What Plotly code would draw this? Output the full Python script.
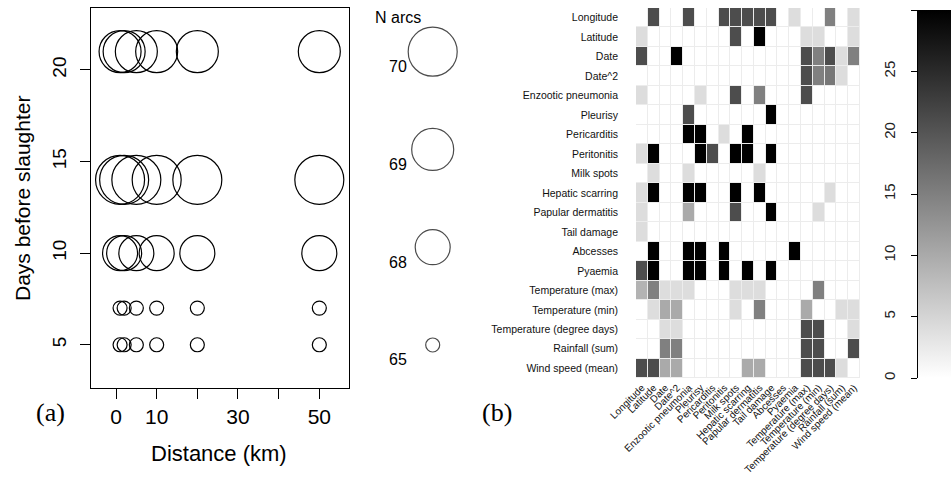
import plotly.graph_objects as go

W, H = 951, 479


def px(x):
    return x / W


def py(y):
    return 1 - y / H


# ---------------- Panel (a) data ----------------
distance_km = [1, 2, 5, 10, 20, 50]
days_before_slaughter = [21, 14, 10, 7, 5]
n_arcs_per_day = [69, 70, 68, 65, 65]
legend_n_arcs = [70, 69, 68, 65]
x_tick_vals = [0, 10, 20, 30, 40, 50]
x_tick_text = ["0", "10", "", "30", "", "50"]
y_tick_vals = [5, 10, 15, 20]

# ---------------- Panel (b) data ----------------
variables = [
    "Longitude", "Latitude", "Date", "Date^2", "Enzootic pneumonia", "Pleurisy",
    "Pericarditis", "Peritonitis", "Milk spots", "Hepatic scarring",
    "Papular dermatitis", "Tail damage", "Abcesses", "Pyaemia",
    "Temperature (max)", "Temperature (min)", "Temperature (degree days)",
    "Rainfall (sum)", "Wind speed (mean)",
]
row_longitude = [0, 21, 0, 0, 21, 0, 0, 21, 21, 21, 21, 21, 0, 4, 0, 0, 15, 0, 4]
row_latitude = [4, 0, 0, 0, 0, 0, 0, 0, 21, 0, 30, 0, 0, 0, 4, 4, 0, 0, 4]
row_date = [21, 0, 0, 30, 0, 0, 0, 0, 0, 0, 0, 0, 0, 0, 21, 15, 21, 4, 15]
row_date2 = [0, 0, 0, 0, 0, 0, 0, 0, 0, 0, 0, 0, 0, 0, 21, 15, 16, 4, 0]
row_enzootic = [4, 0, 0, 0, 0, 4, 0, 0, 21, 0, 15, 0, 0, 0, 21, 0, 0, 0, 0]
row_pleurisy = [0, 0, 0, 0, 21, 0, 0, 0, 0, 0, 0, 30, 0, 0, 0, 0, 0, 0, 0]
row_pericarditis = [0, 0, 0, 0, 30, 30, 0, 4, 0, 30, 0, 0, 0, 0, 0, 0, 0, 0, 0]
row_peritonitis = [4, 30, 0, 0, 0, 30, 21, 0, 30, 30, 0, 30, 0, 0, 0, 0, 0, 0, 0]
row_milk_spots = [0, 4, 0, 0, 4, 0, 0, 0, 0, 0, 4, 0, 0, 0, 0, 0, 0, 0, 0]
row_hepatic = [4, 30, 0, 0, 30, 30, 0, 0, 30, 0, 30, 0, 0, 0, 0, 0, 4, 0, 0]
row_papular = [4, 0, 0, 0, 10, 0, 0, 0, 21, 0, 0, 30, 0, 0, 0, 4, 0, 0, 0]
row_tail = [4, 0, 0, 0, 0, 0, 0, 0, 0, 0, 0, 0, 0, 0, 0, 0, 0, 0, 0]
row_abcesses = [0, 30, 0, 0, 30, 30, 0, 30, 0, 0, 0, 0, 0, 30, 0, 0, 0, 0, 0]
row_pyaemia = [21, 30, 0, 0, 30, 30, 0, 30, 0, 30, 0, 30, 0, 0, 0, 0, 0, 0, 0]
row_temp_max = [9, 15, 4, 4, 4, 0, 0, 0, 4, 4, 4, 0, 0, 0, 0, 15, 0, 0, 0]
row_temp_min = [0, 4, 10, 10, 0, 0, 0, 0, 4, 0, 15, 0, 0, 0, 10, 0, 0, 4, 4]
row_temp_dd = [0, 0, 4, 4, 0, 0, 0, 0, 0, 0, 0, 0, 0, 0, 21, 21, 0, 0, 4]
row_rainfall = [0, 0, 15, 15, 0, 0, 0, 0, 0, 0, 0, 0, 0, 0, 21, 21, 0, 0, 21]
row_wind = [21, 21, 10, 10, 0, 0, 0, 0, 0, 10, 10, 0, 0, 0, 21, 21, 21, 4, 0]
heat_rows = [
    row_longitude, row_latitude, row_date, row_date2, row_enzootic, row_pleurisy,
    row_pericarditis, row_peritonitis, row_milk_spots, row_hepatic, row_papular,
    row_tail, row_abcesses, row_pyaemia, row_temp_max, row_temp_min, row_temp_dd,
    row_rainfall, row_wind,
]
cbar_ticks = [0, 5, 10, 15, 20, 25, 30]


def arc_diameter(n):
    # bubble diameter (px) grows with the number of arcs
    return 35 + 7 * (n - 68)


SANS = "Liberation Sans, Arial, Helvetica, sans-serif"
SERIF = "Liberation Serif, Times New Roman, serif"

fig = go.Figure()

# Panel (a) bubbles
for day, n in zip(days_before_slaughter, n_arcs_per_day):
    fig.add_trace(go.Scatter(
        x=distance_km, y=[day] * len(distance_km), mode="markers",
        marker=dict(size=arc_diameter(n), color="rgba(0,0,0,0)",
                    line=dict(color="black", width=1.2)),
        xaxis="x", yaxis="y", hoverinfo="x+y", showlegend=False, cliponaxis=False,
    ))

# Size legend
fig.add_trace(go.Scatter(
    x=[0] * len(legend_n_arcs), y=list(range(len(legend_n_arcs))), mode="markers",
    marker=dict(size=[arc_diameter(n) for n in legend_n_arcs], color="rgba(0,0,0,0)",
                line=dict(color="black", width=1.2)),
    xaxis="x3", yaxis="y3", hoverinfo="skip", showlegend=False, cliponaxis=False,
))

# Panel (b) heatmap
fig.add_trace(go.Heatmap(
    z=heat_rows, x=variables, y=variables, xaxis="x2", yaxis="y2",
    colorscale=[[0, "#ffffff"], [1, "#000000"]], zmin=0, zmax=30,
    xgap=1, ygap=1,
    colorbar=dict(x=px(918), xanchor="left", xpad=0, ypad=0, thickness=33,
                  len=368 / H, lenmode="fraction", y=py(194), yanchor="middle",
                  showticklabels=False, ticks="", outlinewidth=0),
))

# Colorbar tick axis
fig.add_trace(go.Scatter(
    x=[0.5] * len(cbar_ticks), y=cbar_ticks, mode="markers",
    marker=dict(opacity=0), xaxis="x4", yaxis="y4", hoverinfo="skip", showlegend=False,
))

axis_common = dict(showgrid=False, zeroline=False, showline=True, linecolor="black",
                   linewidth=1, ticks="outside", tickcolor="black", tickwidth=1,
                   automargin=False)

fig.update_layout(
    width=W, height=H, margin=dict(l=0, r=0, t=0, b=0, pad=0, autoexpand=False),
    paper_bgcolor="white", plot_bgcolor="white",
    font=dict(family=SANS, color="black"),
    showlegend=False,
    xaxis=dict(domain=[px(91), px(349)], range=[-6.15, 57.3], anchor="y",
               tickvals=x_tick_vals, ticktext=x_tick_text, ticklen=10, mirror=True,
               tickfont=dict(size=21), **axis_common),
    yaxis=dict(domain=[py(388), py(8)], range=[2.64, 23.38], anchor="x",
               tickvals=y_tick_vals, ticklen=10, tickangle=-90, mirror=True,
               tickfont=dict(size=19), ticklabelstandoff=6, **axis_common),
    xaxis3=dict(domain=[px(412.7), px(452.7)], range=[-1, 1], anchor="y3", visible=False),
    yaxis3=dict(domain=[py(388), py(8)], range=[3.44, -0.447], anchor="x3", visible=False),
    xaxis2=dict(domain=[px(636), px(860)], anchor="y2", showgrid=False, zeroline=False,
                showline=False, ticks="", tickangle=-45, tickfont=dict(size=10, color="#111"),
                tickmode="linear", tick0=0, dtick=1,
                ticklabelstandoff=1, automargin=False),
    yaxis2=dict(domain=[py(378), py(8)], anchor="x2", showgrid=False, zeroline=False,
                showline=False, ticks="", autorange="reversed",
                tickfont=dict(size=10.5, color="#111"),
                tickmode="linear", tick0=0, dtick=1,
                ticklabelstandoff=17, automargin=False),
    xaxis4=dict(domain=[px(918), 1.0], range=[0, 1], anchor="y4", visible=False),
    yaxis4=dict(domain=[py(378), py(10)], range=[0, 30], anchor="x4", side="left",
                tickvals=cbar_ticks, tickangle=-90, ticklen=6, tickfont=dict(size=15, color="#222"),
                ticklabelstandoff=10, **axis_common),
    shapes=[dict(type="rect", xref="x2 domain", yref="y2 domain", x0=0, x1=1, y0=0, y1=1,
                 fillcolor="#ececec", line=dict(width=0), layer="below")],
)

annotations = [
    dict(text="Days before slaughter", x=px(22), y=py(199), textangle=-90,
         font=dict(size=21)),
    dict(text="Distance (km)", x=px(219), y=py(453), font=dict(size=22)),
    dict(text="(a)", x=px(50), y=py(412), font=dict(size=26, family=SERIF)),
    dict(text="(b)", x=px(497), y=py(412), font=dict(size=26, family=SERIF)),
    dict(text="N arcs", x=px(398), y=py(17), font=dict(size=16)),
]
for a in annotations:
    a.update(xref="paper", yref="paper", showarrow=False, xanchor="center", yanchor="middle")
for i, n in enumerate(legend_n_arcs):
    annotations.append(dict(text=str(n), xref="x3", yref="y3", x=0, y=i, xshift=-34.5,
                            yshift=-15, showarrow=False, font=dict(size=16),
                            xanchor="center", yanchor="middle"))
fig.update_layout(annotations=annotations)

fig.write_html(
    "out.html",
    config={"displayModeBar": False},
    post_script="document.body.style.margin='0px';document.body.style.overflow='hidden';",
)
